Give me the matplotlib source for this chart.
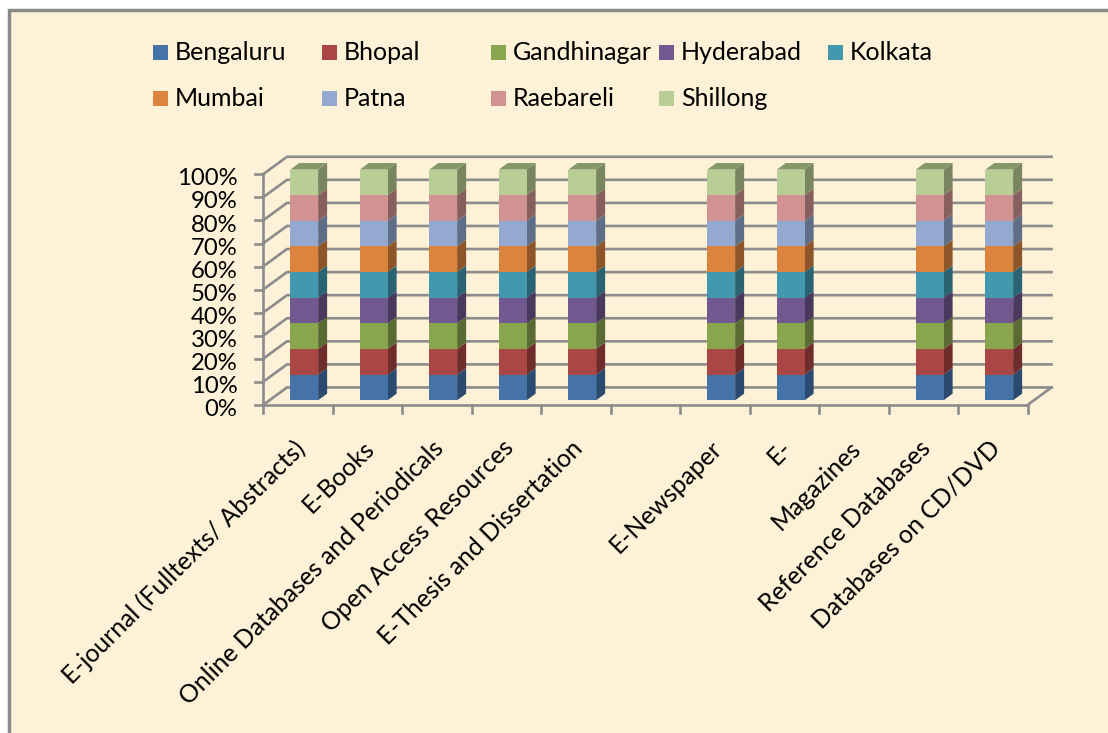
import numpy as np
import matplotlib
matplotlib.use('Agg')
import matplotlib.pyplot as plt
from matplotlib.patches import Polygon, Rectangle

plt.rcParams['font.family'] = ['Lato', 'DejaVu Sans']

cities = ['Bengaluru', 'Bhopal', 'Gandhinagar', 'Hyderabad', 'Kolkata',
          'Mumbai', 'Patna', 'Raebareli', 'Shillong']
categories = ['E-journal (Fulltexts/ Abstracts)', 'E-Books', 'Online Databases and Periodicals',
              'Open Access Resources', 'E-Thesis and Dissertation', '', 'E-Newspaper',
              'E-', 'Magazines', 'Reference Databases', 'Databases on CD/DVD']
# every city has one entry per resource, two categories are empty
has_data = [1, 1, 1, 1, 1, 0, 1, 1, 0, 1, 1]
front_colors = ['#4572a7', '#aa4643', '#89a54e', '#71588f', '#4198af',
                '#db843d', '#93a9cf', '#d19392', '#b9cd96']
side_colors = ['#2a4a70', '#6e2d2b', '#596b32', '#49395d', '#2a6371',
               '#8e5628', '#5f6e87', '#885f5f', '#78855f']
ticks_pct = [0, 10, 20, 30, 40, 50, 60, 70, 80, 90, 100]

W, H = 1108, 733
BG = '#fdf1d7'
GRID = '#8c8c8c'
# depth of the floor in data units, for the fake 3d
DX, DY = 0.345, 7.6


def sheared(x, y, d):
    return x + d * DX, y + d * DY


fig = plt.figure(figsize=(W / 100, H / 100), dpi=100, facecolor='white')
fig.add_artist(Rectangle((9 / W, -0.01), 1.01, (H - 10) / H + 0.01, transform=fig.transFigure,
                         facecolor=BG, edgecolor='#8a8a8a', linewidth=2.5, zorder=-5))

ax = fig.add_axes([263 / W, (H - 405) / H, (1027.5 - 263) / W, (405 - 174.3) / H])
ax.set_xlim(0, len(categories))
ax.set_ylim(0, 100)
ax.axis('off')

# walls and floor
for t in ticks_pct:
    xb, yb = sheared(0, t, 1)
    xe, ye = sheared(len(categories), t, 1)
    ax.plot([0, xb, xe], [t, yb, ye], color=GRID, lw=1.9, clip_on=False, solid_joinstyle='miter')
    ax.plot([-0.11, 0], [t, t], color=GRID, lw=1.9, clip_on=False)
    ax.text(-0.37, t - 2, f'{t}%', ha='right', va='center', fontsize=17.2, color='black', clip_on=False)
ax.plot([0, 0], [0, 100], color=GRID, lw=1.9, clip_on=False)
ax.plot([0, len(categories)], [0, 0], color=GRID, lw=1.9, clip_on=False)
for i in range(len(categories) + 1):
    ax.plot([i, i], [0, -3.5], color=GRID, lw=1.9, clip_on=False)
xr, yr = sheared(len(categories), 0, 1)
ax.plot([len(categories), xr], [0, yr], color=GRID, lw=1.9, clip_on=False)

# bars, 100% stacked
bar_w = 0.4
d0, d1 = 0.27, 0.645
for i, flag in enumerate(has_data):
    if not flag:
        continue
    vals = np.ones(len(cities)) * flag
    vals = vals / vals.sum() * 100
    left = i + 0.5 - bar_w / 2
    bottom = 0
    for j, v in enumerate(vals):
        x0, y0 = sheared(left, bottom, d0)
        x1, y1 = sheared(left + bar_w, bottom + v, d0)
        x2, y2 = sheared(left + bar_w, bottom, d1)
        x3, y3 = sheared(left + bar_w, bottom + v, d1)
        ax.add_patch(Polygon([(x1, y0), (x2, y2), (x3, y3), (x1, y1)], facecolor=side_colors[j],
                             edgecolor='none', clip_on=False, zorder=3))
        ax.add_patch(Rectangle((x0, y0), x1 - x0, y1 - y0, facecolor=front_colors[j],
                               edgecolor='none', clip_on=False, zorder=4))
        bottom += v
    x0, y0 = sheared(left, 100, d0)
    x1, _ = sheared(left + bar_w, 100, d0)
    x2, y2 = sheared(left + bar_w, 100, d1)
    x3, _ = sheared(left, 100, d1)
    ax.add_patch(Polygon([(x0, y0), (x1, y0), (x2, y2), (x3, y2)], facecolor='#86986a',
                         edgecolor='none', clip_on=False, zorder=3))

# category labels
for i, lab in enumerate(categories):
    if lab:
        ax.text(i + 0.43, -13.5, lab, rotation=45, rotation_mode='anchor', ha='right', va='top',
                fontsize=17.8, color='black', clip_on=False)

# legend
col_x = [153, 322, 491, 659, 828]
row_y = [52, 98]
for k, city in enumerate(cities):
    c = col_x[k % 5]
    r = row_y[k // 5]
    fig.add_artist(Rectangle((c / W, 1 - (r + 7.5) / H), 15 / W, 15 / H, transform=fig.transFigure,
                             facecolor=front_colors[k], edgecolor='none'))
    fig.text((c + 22) / W, 1 - r / H, city, ha='left', va='center', fontsize=18, color='black')

plt.savefig('out.png', dpi=100)
